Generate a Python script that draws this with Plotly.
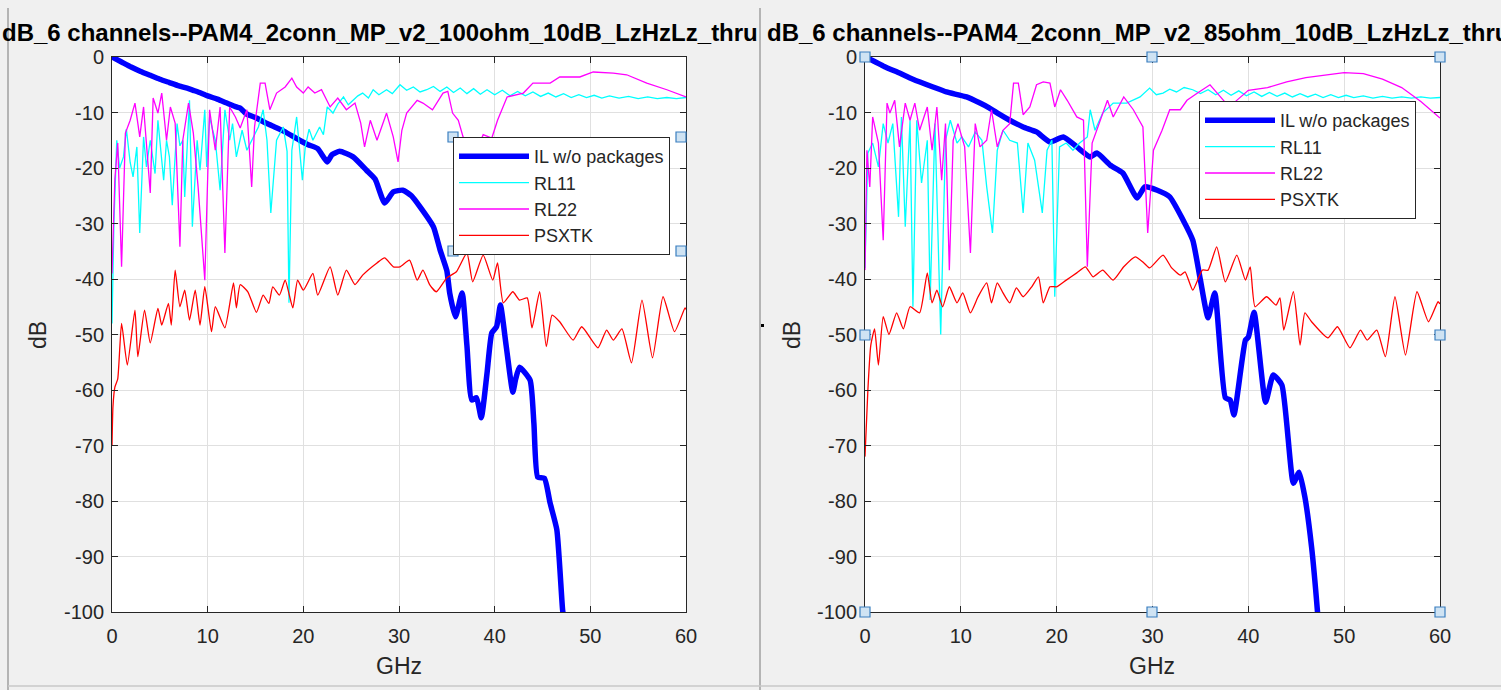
import plotly.graph_objects as go

W, H = 1501, 690

# ---------------- data: left panel (100 ohm) ----------------
L_IL_F = [0, 1, 2, 3, 4, 5, 6, 7, 8, 8.5, 9, 10, 11, 12, 13, 13.4, 14, 15.1, 16.2, 17, 18, 19.6, 20.5, 21.5,
          22.5, 23, 23.8, 25.2, 26.6, 27.5, 28.5, 29.4, 30.4, 31.3, 32.2, 33.6, 34.3, 35, 35.3, 35.9, 36.6,
          37.1, 37.6, 38.1, 38.6, 39.2, 39.7, 40.2, 40.6, 41.2, 41.9, 42.2, 42.6, 43.7, 44.1, 44.5, 45.2,
          45.8, 46.5, 47.1, 47.3]
L_IL_DB = [0, -0.9, -1.8, -2.6, -3.3, -4.0, -4.6, -5.2, -5.7, -6.0, -6.3, -7.0, -7.6, -8.3, -9.0, -9.2, -10.2,
           -11.0, -12.0, -12.6, -13.4, -15.0, -15.8, -16.5, -18.9, -17.6, -17.0, -18.0, -20.4, -22.0, -26.3,
           -24.3, -24.0, -25.0, -27.0, -30.6, -34.8, -38.5, -42.5, -46.8, -42.5, -52.0, -61.8, -61.4, -65.0,
           -57.0, -49.7, -48.6, -44.7, -52.0, -60.4, -58.0, -55.9, -58.2, -66.0, -75.7, -75.9, -80.4, -85.2,
           -99.6, -102]

L_RL11_F = [0, 0.2, 0.5, 0.8, 1.2, 1.5, 1.9, 2.2, 2.6, 2.9, 3.3, 3.6, 4.0, 4.5, 4.8, 5.1, 5.4, 5.7, 6.0, 6.3,
            6.8, 7.1, 7.4, 7.6, 8.1, 8.4, 8.9, 9.2, 9.7, 9.9, 10.2, 10.5, 10.8, 11.3, 11.8, 12.3, 12.6, 13.0,
            13.6, 14.1, 14.8, 15.3, 15.8, 16.2, 16.6, 17.2, 17.9, 18.3, 18.5, 18.8, 19.3, 19.9, 20.2, 20.6,
            21.0, 21.7, 22.1, 22.5, 23.1, 23.6, 24.2, 24.7, 25.2, 25.7, 26.2, 26.8, 27.3, 27.9, 28.7, 29.3,
            30.1, 30.8, 31.5, 32.2, 32.9, 33.6, 34.3, 35.0, 35.7, 36.4, 37.1, 37.8, 38.5, 39.2, 40.0, 40.8,
            41.6, 42.4, 43.2, 44.0, 44.8, 45.6, 46.4, 47.2, 48.0, 48.8, 49.6, 50.4, 51.2, 52, 53, 54, 55, 56,
            57, 58, 59, 60]
L_RL11_DB = [-48, -30, -15, -20, -18, -13, -19, -21.6, -16.2, -31.7, -14.4, -19.8, -15, -21, -11.4, -17, -22.2,
             -15, -18, -26.7, -12, -16, -15, -25.2, -7.8, -30.6, -15, -20.4, -9.5, -19.8, -10.8, -13, -15, -24,
             -9.5, -15, -12, -18, -13.2, -16.8, -14.4, -12.6, -9.5, -15, -28.1, -15, -12.6, -17, -44.3, -16.8,
             -10.8, -22.2, -16.2, -13, -15, -12.6, -14, -9, -10.1, -8.5, -7.2, -8.6, -7.8, -7.0, -6.5, -7.4,
             -5.9, -6.8, -5.9, -6.6, -5.0, -6.0, -5.4, -6.3, -5.9, -5.3, -6.2, -5.4, -6.4, -5.6, -6.6, -5.7,
             -6.7, -5.9, -6.8, -6.0, -7.0, -6.2, -7.0, -6.3, -7.1, -6.5, -7.2, -6.6, -7.3, -6.8, -7.3, -6.9,
             -7.4, -7.0, -7.4, -7.1, -7.5, -7.2, -7.5, -7.3, -7.5, -7.3]

L_RL22_F = [0, 0.3, 0.6, 1.0, 1.4, 1.9, 2.4, 2.9, 3.3, 3.6, 4.0, 4.3, 4.8, 5.2, 5.7, 6.1, 6.6, 7.1, 7.4, 8.0,
            8.5, 9.0, 9.4, 9.7, 10.2, 10.8, 11.3, 11.8, 12.3, 12.9, 13.4, 14.1, 14.6, 14.9, 15.5, 16.0, 16.5,
            17.2, 18.1, 18.8, 19.3, 20.0, 20.5, 21.2, 21.9, 22.8, 23.6, 24.5, 25.4, 26.0, 26.4, 27.0, 27.7,
            28.2, 28.7, 29.4, 29.9, 30.3, 30.8, 31.9, 32.5, 33.5, 34.6, 35.1, 35.6, 36.2, 36.7, 37.2, 37.7,
            38.2, 38.8, 39.7, 40.3, 41.3, 42.3, 43.0, 44.0, 45.8, 46.8, 48.9, 50.3, 52.4, 53.8, 55.9, 58.0, 60.0]
L_RL22_DB = [-39, -22, -15.5, -37.8, -13.7, -11.4, -8.3, -14.4, -9, -15, -24.5, -7.4, -10.1, -6.5, -15, -9,
             -11.9, -34.2, -15, -8.3, -13.7, -23.4, -33.5, -40.2, -9.5, -16.8, -9, -35.3, -9, -10.8, -12.8,
             -9.5, -23.4, -12.6, -4.7, -4.7, -9.5, -6.5, -5.4, -3.8, -5.4, -6.5, -5.4, -6.5, -5.9, -9, -7.4,
             -9.5, -8.3, -11.9, -16.2, -11.4, -15, -12.6, -10.1, -14.4, -18.9, -13.2, -10.1, -7.8, -8.3, -9.5,
             -6.5, -6.2, -10.1, -11.4, -14.4, -16, -15, -16.5, -14, -14.6, -11.4, -7.2, -6.8, -6.5, -4.7,
             -4.7, -3.6, -3.6, -2.7, -2.9, -3.2, -4.7, -5.9, -7.2]

L_XT_F = [0, 0.1, 0.3, 0.6, 1, 1.6, 2.4, 2.7, 3.4, 4, 4.8, 5.2, 5.9, 6.2, 6.6, 7.1, 7.6, 8.1, 8.7, 9.2, 9.7,
          10.4, 10.8, 11.8, 12.7, 13, 13.4, 14.2, 15.1, 15.8, 16.4, 16.8, 17.5, 18.1, 18.9, 19.4, 20, 21, 21.5,
          22.8, 23.6, 24.5, 25.4, 26.2, 27.7, 28.5, 29.4, 30.1, 31.1, 31.9, 32.5, 33.2, 33.9, 35, 36, 37.1,
          37.7, 38.8, 39.8, 40.3, 40.9, 41.9, 42.6, 43.4, 43.9, 44.7, 45.4, 46, 46.8, 48.2, 49.1, 50.8, 51.7,
          52.4, 53.3, 54.3, 55.4, 56.5, 57.6, 58.8, 59.9, 60]
L_XT_DB = [-70, -63, -59.5, -58, -48, -55.5, -45.6, -54, -45.6, -51.5, -45.3, -48.3, -44.4, -48.3, -38.4, -45,
           -42, -47.4, -42, -48.3, -41.4, -49.5, -45, -48.8, -40.7, -45.2, -41, -42.3, -46, -42.9, -44.4, -41.4,
           -42.9, -40.2, -45.2, -40.2, -42, -39, -42.9, -37.8, -42.9, -38.4, -41, -39.3, -37.1, -36.2, -37.8,
           -37.8, -36.6, -40.2, -38.4, -41, -42.3, -39.8, -38.7, -35.3, -40.5, -35.7, -40.2, -37.1, -44.3,
           -42.3, -43.8, -43.4, -48.8, -42.3, -52.2, -46.5, -47.7, -51, -48.6, -52.4, -49.2, -51, -49, -55.1,
           -43.8, -54.2, -43.2, -49.5, -45.2, -45.5]

# ---------------- data: right panel (85 ohm) ----------------
R_IL_F = [0, 1, 2, 3.6, 5, 7.1, 8.5, 10.6, 12, 13, 14, 15.1, 16.5, 17.9, 19.3, 20.7, 22.1, 23.5, 24.2, 25.6,
          26.9, 28.4, 29.2, 30.5, 31.8, 33.2, 34.2, 35, 35.8, 36.5, 37.6, 38.1, 38.5, 39.7, 40, 40.6, 41.8,
          42.6, 43.5, 44.7, 45.3, 45.9, 46.6, 47.2, 47.3]
R_IL_DB = [0, -0.8, -1.7, -2.9, -4.0, -5.4, -6.3, -7.2, -8.3, -9.2, -10.3, -11.4, -12.6, -13.5, -15.3, -14.4,
           -16.2, -18, -17.3, -19.5, -20.9, -25.4, -23.4, -24, -25.2, -29.4, -33, -40.2, -47, -42.5, -61.4,
           -61.8, -64.5, -51, -50.5, -46, -62.2, -57.3, -59.1, -76.8, -74.8, -79.3, -88.3, -99.6, -102]

R_RL11_F = [0, 0.3, 0.8, 1.4, 1.9, 2.4, 2.9, 3.5, 3.8, 4.2, 4.7, 5.0, 5.4, 5.9, 6.5, 6.8, 7.3, 7.9, 8.4, 8.9,
            9.6, 10.1, 10.8, 11.5, 12.2, 12.7, 13.3, 13.8, 14.4, 15.1, 15.9, 16.5, 17.0, 17.7, 18.5, 19.0,
            19.5, 19.8, 20.3, 21.0, 21.7, 22.4, 23.2, 23.5, 24.0, 24.8, 25.9, 27.3, 28.7, 29.7, 30.4, 31.1,
            31.8, 32.5, 33.3, 34.2, 35.0, 35.8, 36.6, 37.4, 38.2, 39.0, 39.8, 40.6, 41.4, 42.2, 43.0, 43.8,
            44.6, 45.4, 46.2, 47.0, 47.8, 48.6, 49.4, 50.2, 51.0, 52, 53, 54, 55, 56, 57, 58, 59, 60]
R_RL11_DB = [-38, -17.3, -15.5, -19.8, -12, -15.5, -12, -28.8, -10.8, -30.6, -11.4, -45, -11.4, -22.7, -15,
             -43.8, -12, -50, -15, -11.4, -15.5, -14.4, -16.2, -13.5, -15, -23.4, -31.7, -16.8, -13.2, -15,
             -15.5, -28.1, -15.5, -18.6, -28.1, -16.8, -15, -43.2, -16.2, -15.5, -16.8, -15.5, -14.4, -9.5,
             -13.2, -10.1, -8.3, -8.3, -7.2, -5.6, -6.8, -6.5, -5.8, -6.3, -5.5, -5.9, -6.6, -5.9, -6.8, -6.0,
             -6.9, -6.1, -7.0, -6.3, -7.1, -6.4, -7.1, -6.5, -7.2, -6.6, -7.2, -6.7, -7.3, -6.8, -7.3, -6.9,
             -7.3, -7.0, -7.4, -7.1, -7.4, -7.2, -7.4, -7.2, -7.4, -7.3]

R_RL22_F = [0, 0.2, 0.5, 0.8, 1.4, 1.9, 2.3, 2.6, 3.1, 3.6, 4.2, 4.7, 5.2, 5.7, 6.5, 7.0, 7.5, 8.0, 8.4, 8.8,
            9.2, 9.7, 10.4, 11.0, 11.5, 12.0, 12.7, 13.2, 13.8, 14.4, 15.1, 15.5, 16.0, 16.5, 17.2, 17.9, 18.6,
            19.3, 19.8, 20.4, 21.1, 22.1, 22.8, 23.2, 23.7, 24.3, 25.3, 25.9, 27.0, 28.0, 29.0, 29.5, 30.1,
            31.0, 31.8, 32.9, 33.6, 34.7, 36, 37, 38, 39, 40, 42, 44, 46, 48, 50, 51, 52, 54, 56, 58, 60]
R_RL22_DB = [-38.4, -16.8, -23.4, -10.8, -15.5, -33, -8.3, -10.1, -7.8, -16.2, -8.3, -11.4, -8.3, -13.2, -9,
             -16.8, -9, -22.2, -12, -38.4, -15, -12, -16.2, -35.3, -12, -16.2, -15, -9.5, -16.2, -13.2, -12,
             -4.7, -4.7, -10.4, -9, -5, -4.5, -4.7, -9, -5.9, -7.8, -10.8, -11.4, -37.8, -15.5, -12.6, -7.8,
             -10.8, -7.2, -9.5, -12.6, -31.7, -16.8, -13.2, -9.5, -9.5, -7.8, -6.5, -5, -7, -9, -7.5, -6,
             -5.5, -4.5, -3.7, -3.2, -2.8, -2.9, -3.0, -4, -5.5, -8, -11]

R_XT_F = [0, 0.3, 0.6, 1.0, 1.4, 1.9, 2.5, 3.3, 4, 4.7, 5.7, 6.5, 7, 7.5, 8.1, 8.8, 9.6, 10.2, 11, 11.8, 12.7,
          13.2, 13.8, 14.4, 15.1, 15.8, 16.5, 17.4, 18.1, 18.6, 19.3, 20, 21, 22.1, 23, 23.8, 24.8, 25.9, 27,
          28.2, 29.1, 29.7, 31.1, 32, 32.9, 33.4, 34.2, 35.2, 35.8, 36.7, 37.6, 38.8, 39.7, 40.2, 40.7, 41.9,
          42.9, 43.3, 43.7, 44.7, 45.4, 45.9, 46.6, 48.3, 49.3, 50.6, 51.7, 52.4, 53.4, 54.3, 55.3, 56.4, 57.6,
          58.8, 59.8, 60]
R_XT_DB = [-72, -60, -52, -49, -55.5, -46.8, -50, -46.1, -49, -45, -46.1, -38.9, -44.3, -42, -45, -41.4, -44.3,
           -42.5, -46.1, -43.2, -40.7, -44.3, -40.7, -42.5, -44.3, -41.6, -43.2, -41.4, -39.6, -44.3, -41.4,
           -41.4, -40.2, -38.9, -37.8, -39.6, -38.4, -40.2, -37.8, -36, -37.1, -38, -35.7, -38, -39.3, -38.7,
           -42, -38.4, -38.4, -34.2, -40.5, -35.7, -40.2, -37.8, -45, -43.2, -44.7, -43.4, -49.2, -42.3,
           -51.9, -46.1, -47.7, -50.6, -48.6, -52.4, -49.2, -51, -49.2, -54, -43.2, -53.7, -42.3, -47.7, -44.1,
           -44.5]

X_TICKS = [0, 10, 20, 30, 40, 50, 60]
Y_TICKS = [0, -10, -20, -30, -40, -50, -60, -70, -80, -90, -100]
Y_TICKTEXT = ["0", "-10", "-20", "-30", "-40", "-50", "-60", "-70", "-80", "-90", "-100"]
NAMES = ["IL w/o packages", "RL11", "RL22", "PSXTK"]
TITLE_L = "dB_6 channels--PAM4_2conn_MP_v2_100ohm_10dB_LzHzLz_thru"
TITLE_R = "dB_6 channels--PAM4_2conn_MP_v2_85ohm_10dB_LzHzLz_thru"

FONT = "Liberation Sans, Arial, sans-serif"
TXT = "#262626"
COLORS = ["#0000ff", "#00ffff", "#ff00ff", "#ff0000"]
WIDTHS = [5.5, 1.3, 1.3, 1.3]

def px(x):
    return x / W

def py(y):
    return 1 - y / H

fig = go.Figure()

panels = [
    ("x", "y", "legend", [(L_IL_F, L_IL_DB), (L_RL11_F, L_RL11_DB), (L_RL22_F, L_RL22_DB), (L_XT_F, L_XT_DB)]),
    ("x2", "y2", "legend2", [(R_IL_F, R_IL_DB), (R_RL11_F, R_RL11_DB), (R_RL22_F, R_RL22_DB), (R_XT_F, R_XT_DB)]),
]
for xa, ya, lg, series in panels:
    for i, (f, v) in enumerate(series):
        shape = "spline" if i in (0, 3) else "linear"
        fig.add_trace(go.Scatter(
            x=f, y=v, mode="lines", name=NAMES[i], xaxis=xa, yaxis=ya, legend=lg,
            line=dict(color=COLORS[i], width=WIDTHS[i], shape=shape, smoothing=0.5),
            hoverinfo="skip"))

def xax(dom, anchor):
    return dict(domain=dom, anchor=anchor, range=[0, 60], tickvals=X_TICKS, ticks="inside", ticklen=6,
                tickcolor=TXT, showline=True, linecolor=TXT, linewidth=1, mirror="ticks", showgrid=True,
                gridcolor="#e0e0e0", zeroline=False, automargin=False, ticklabelstandoff=6,
                tickfont=dict(family=FONT, size=20, color=TXT))

def yax(anchor):
    return dict(domain=[py(612), py(57)], anchor=anchor, range=[-100, 0], tickvals=Y_TICKS, ticktext=Y_TICKTEXT,
                ticks="inside", ticklen=6, tickcolor=TXT, showline=True, linecolor=TXT, linewidth=1,
                mirror="ticks", showgrid=True, gridcolor="#e0e0e0", zeroline=False, automargin=False,
                ticklabelstandoff=3, tickfont=dict(family=FONT, size=20, color=TXT))

legend_style = dict(bgcolor="white", bordercolor=TXT, borderwidth=1, xanchor="left", yanchor="top",
                    font=dict(family=FONT, size=18, color=TXT), itemwidth=70, tracegroupgap=0,
                    itemclick=False, itemdoubleclick=False)

fig.update_layout(
    width=W, height=H, margin=dict(l=0, r=0, t=0, b=0, autoexpand=False),
    paper_bgcolor="#f0f0f0", plot_bgcolor="white", showlegend=True,
    xaxis=xax([px(112), px(686)], "y"), yaxis=yax("x"),
    xaxis2=xax([px(865), px(1440)], "y2"), yaxis2=yax("x2"),
    legend=dict(x=px(453), y=py(137), **legend_style),
    legend2=dict(x=px(1199), y=py(101), **legend_style),
)

ann = []
ann.append(dict(text="<b>%s</b>" % TITLE_L, x=px(0), y=py(33), xref="paper", yref="paper", xanchor="left",
                yanchor="middle", showarrow=False, font=dict(family=FONT, size=24, color="#000000")))
ann.append(dict(text="<b>%s</b>" % TITLE_R, x=px(765), y=py(33), xref="paper", yref="paper", xanchor="left",
                yanchor="middle", showarrow=False, font=dict(family=FONT, size=24, color="#000000")))
for cx, lx in [(399, 38), (1152, 792)]:
    ann.append(dict(text="GHz", x=px(cx), y=py(666), xref="paper", yref="paper", showarrow=False,
                    xanchor="center", yanchor="middle", font=dict(family=FONT, size=23, color=TXT)))
    ann.append(dict(text="dB", x=px(lx), y=py(335), xref="paper", yref="paper", showarrow=False, textangle=-90,
                    xanchor="center", yanchor="middle", font=dict(family=FONT, size=23, color=TXT)))
fig.update_layout(annotations=ann)

shapes = []
# panel separator lines
for x in (8, 760):
    shapes.append(dict(type="line", xref="paper", yref="paper", x0=px(x), x1=px(x), y0=py(8), y1=py(690),
                       line=dict(color="#a0a0a0", width=1.5)))
shapes.append(dict(type="line", xref="paper", yref="paper", x0=px(8), x1=1, y0=py(686), y1=py(686),
                   line=dict(color="#c8c8c8", width=1.5)))
shapes.append(dict(type="rect", xref="paper", yref="paper", x0=px(761), x1=px(764), y0=py(327), y1=py(324),
                   fillcolor="black", line=dict(width=0)))
# edit-mode selection handles
handles = [(865, 57), (1152, 57), (1440, 57), (865, 335), (1440, 335), (865, 612), (1152, 612), (1440, 612),
           (453, 137), (681, 137), (453, 251), (681, 251)]
for hx, hy in handles:
    shapes.append(dict(type="rect", xref="paper", yref="paper", x0=px(hx - 5), x1=px(hx + 5), y0=py(hy + 5),
                       y1=py(hy - 5), fillcolor="#cfe3f3", line=dict(color="#3a7fc0", width=1.2), layer="above"))
fig.update_layout(shapes=shapes)

fig.write_html(
    "out.html",
    config={"displayModeBar": False},
    post_script="document.body.style.margin='0';document.body.style.overflow='hidden';"
                "document.body.style.backgroundColor='#f0f0f0';",
)
